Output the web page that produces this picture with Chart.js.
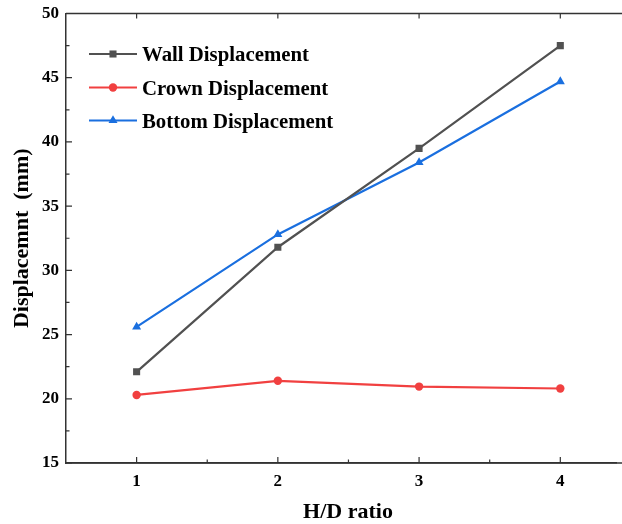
<!DOCTYPE html>
<html>
<head>
<meta charset="utf-8">
<script src="https://cdn.jsdelivr.net/npm/chart.js@4/dist/chart.umd.min.js"></script>
<style>
  html, body { margin: 0; padding: 0; background: #fff; overflow: hidden; }
  #wrap { width: 622px; height: 524px; }
</style>
</head>
<body>
<div id="wrap"><canvas id="c" width="622" height="524"></canvas></div>
<script>
// H/D ratio categories and displacement results (mm)
const hdRatio = [1, 2, 3, 4];
const xTickLabels = ['1', '2', '3', '4'];
const yTickValues = [15, 20, 25, 30, 35, 40, 45, 50];
const wallDisp = [22.1, 31.8, 39.5, 47.5];
const crownDisp = [20.3, 21.4, 20.95, 20.8];
const bottomDisp = [25.6, 32.8, 38.4, 44.7];

const seriesNames = ['Wall Displacement', 'Crown Displacement', 'Bottom Displacement'];
const seriesColors = ['#515151', '#F14040', '#1A6FDF'];
const seriesMarkers = ['rect', 'circle', 'triangle'];
const markerRadius = [5, 4.2, 5.2];
const xTitle = 'H/D ratio';

const FONT = "'Liberation Serif', 'Times New Roman', serif";

function toPoints(vals) {
  return hdRatio.map((x, i) => ({ x: x, y: vals[i] }));
}

const datasets = [wallDisp, crownDisp, bottomDisp].map((vals, i) => ({
  label: seriesNames[i],
  data: toPoints(vals),
  borderColor: seriesColors[i],
  backgroundColor: seriesColors[i],
  borderWidth: 2.2,
  pointStyle: seriesMarkers[i],
  pointRadius: markerRadius[i],
  pointBorderWidth: 0,
  pointHoverRadius: markerRadius[i],
  tension: 0,
  fill: false
}));

function drawMarker(ctx, style, x, y, r) {
  ctx.beginPath();
  if (style === 'rect') {
    const s = Math.SQRT1_2 * r;
    ctx.rect(x - s, y - s, 2 * s, 2 * s);
  } else if (style === 'circle') {
    ctx.arc(x, y, r, 0, Math.PI * 2);
  } else {
    let a = 0;
    ctx.moveTo(x + Math.sin(a) * r, y - Math.cos(a) * r);
    a += 2 * Math.PI / 3;
    ctx.lineTo(x + Math.sin(a) * r, y - Math.cos(a) * r);
    a += 2 * Math.PI / 3;
    ctx.lineTo(x + Math.sin(a) * r, y - Math.cos(a) * r);
    ctx.closePath();
  }
  ctx.fill();
}

// Inward tick marks, frame lines running to the right edge, x title and the in-plot legend
const framePlugin = {
  id: 'frame',
  afterDraw(chart) {
    const ctx = chart.ctx;
    const area = chart.chartArea;
    const xs = chart.scales.x;
    const ys = chart.scales.y;
    ctx.save();
    ctx.strokeStyle = '#333';
    ctx.lineWidth = 1.5;
    ctx.beginPath();
    ctx.moveTo(area.left, area.top);
    ctx.lineTo(chart.width, area.top);
    ctx.moveTo(area.left, area.bottom);
    ctx.lineTo(chart.width, area.bottom);
    ctx.stroke();
    ctx.lineWidth = 1.2;
    ctx.beginPath();
    // x ticks (major + half-step minor) on the bottom, major on top
    hdRatio.forEach((v, i) => {
      const px = xs.getPixelForValue(v);
      ctx.moveTo(px, area.bottom); ctx.lineTo(px, area.bottom - 6);
      ctx.moveTo(px, area.top); ctx.lineTo(px, area.top + 5);
      if (i < hdRatio.length - 1) {
        const mx = xs.getPixelForValue((v + hdRatio[i + 1]) / 2);
        ctx.moveTo(mx, area.bottom); ctx.lineTo(mx, area.bottom - 3.5);
      }
    });
    // y ticks (major + minor)
    yTickValues.forEach((v, i) => {
      const py = ys.getPixelForValue(v);
      ctx.moveTo(area.left, py); ctx.lineTo(area.left + 6, py);
      if (i < yTickValues.length - 1) {
        const my = ys.getPixelForValue((v + yTickValues[i + 1]) / 2);
        ctx.moveTo(area.left, my); ctx.lineTo(area.left + 3.5, my);
      }
    });
    ctx.stroke();

    // x axis title, centred on the full frame width
    ctx.fillStyle = '#000';
    ctx.font = 'bold 22px ' + FONT;
    ctx.textAlign = 'center';
    ctx.textBaseline = 'alphabetic';
    ctx.fillText(xTitle, (area.left + chart.width) / 2 + 4, 518);

    // legend
    const rows = [54, 87.5, 120.5];
    const x0 = 89, x1 = 137, mx = 113;
    ctx.font = 'bold 20.8px ' + FONT;
    ctx.textAlign = 'left';
    datasets.forEach((ds, i) => {
      const y = rows[i];
      ctx.strokeStyle = ds.borderColor;
      ctx.fillStyle = ds.borderColor;
      ctx.lineWidth = 2.2;
      ctx.beginPath();
      ctx.moveTo(x0, y); ctx.lineTo(x1, y);
      ctx.stroke();
      drawMarker(ctx, ds.pointStyle, mx, y, ds.pointRadius);
      ctx.fillStyle = '#000';
      ctx.fillText(ds.label, 142, y + 7);
    });
    ctx.restore();
  }
};

new Chart(document.getElementById('c'), {
  type: 'line',
  data: { datasets: datasets },
  options: {
    responsive: false,
    animation: false,
    devicePixelRatio: 1,
    layout: { padding: { top: 13.5, left: 0, right: 0, bottom: 0 } },
    plugins: { legend: { display: false }, tooltip: { enabled: false } },
    scales: {
      x: {
        type: 'linear',
        min: 0.5,
        max: 4.4,
        afterBuildTicks(scale) { scale.ticks = hdRatio.map(v => ({ value: v })); },
        afterFit(scale) {
          scale.height = 61;
          scale.paddingLeft = 0;
          scale.paddingRight = 0;
        },
        grid: { display: false, drawTicks: false },
        border: { display: true, color: '#333', width: 1.5 },
        ticks: {
          padding: 8,
          color: '#000',
          font: { family: FONT, size: 17, weight: 'bold' },
          callback: (v) => xTickLabels[hdRatio.indexOf(v)]
        },
        title: { display: false }
      },
      y: {
        type: 'linear',
        min: 15,
        max: 50,
        afterBuildTicks(scale) { scale.ticks = yTickValues.map(v => ({ value: v })); },
        afterFit(scale) {
          scale.width = 66;
          scale.paddingTop = 0;
          scale.paddingBottom = 0;
        },
        grid: { display: false, drawTicks: false },
        border: { display: true, color: '#333', width: 1.5 },
        ticks: {
          padding: 7,
          color: '#000',
          font: { family: FONT, size: 17, weight: 'bold' }
        },
        title: {
          display: true,
          text: 'Displacemnt  (mm)',
          color: '#000',
          font: { family: FONT, size: 22, weight: 'bold', lineHeight: 1.2 },
          padding: { top: 9, bottom: 0 }
        }
      }
    }
  },
  plugins: [framePlugin]
});
</script>
</body>
</html>
